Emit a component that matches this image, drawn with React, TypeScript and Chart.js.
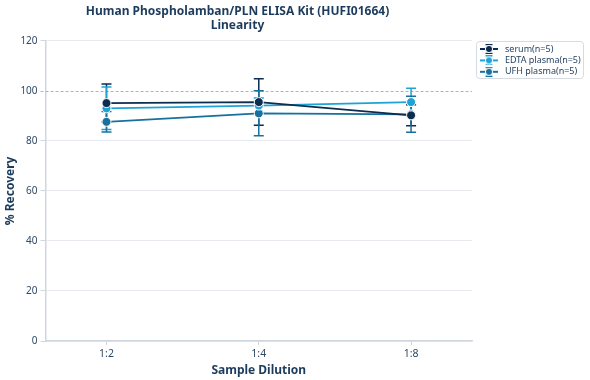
import React, { useEffect, useRef } from "react";
import { Chart, registerables } from "chart.js";

Chart.register(...registerables);

const categories = ["1:2", "1:4", "1:8"];
const seriesNames = ["serum(n=5)", "EDTA plasma(n=5)", "UFH plasma(n=5)"];
const serumValues = [95.1, 95.5, 90.2];
const edtaValues = [93.0, 94.1, 95.5];
const ufhValues = [87.6, 91.0, 90.6];
const serumErrors = [7.6, 9.3, 4.2];
const edtaErrors = [8.5, 3.0, 5.5];
const ufhErrors = [4.1, 9.0, 7.2];
const yTicks = [0, 20, 40, 60, 80, 100, 120];
const referenceValue = 100;

const colors = ["#0c2d4e", "#1ea3d6", "#17709d"];
const textColor = "#1d3b5c";
const tickColor = "#2f4a66";

function makeGlyph(color: string) {
  const c = document.createElement("canvas");
  c.width = 20;
  c.height = 10;
  const ctx = c.getContext("2d")!;
  ctx.strokeStyle = color;
  ctx.lineWidth = 2;
  ctx.beginPath();
  ctx.moveTo(1, 5);
  ctx.lineTo(19, 5);
  ctx.stroke();
  ctx.lineWidth = 1.3;
  ctx.beginPath();
  ctx.moveTo(10, 0.5);
  ctx.lineTo(10, 9.5);
  ctx.moveTo(6.5, 0.7);
  ctx.lineTo(13.5, 0.7);
  ctx.moveTo(6.5, 9.3);
  ctx.lineTo(13.5, 9.3);
  ctx.stroke();
  ctx.fillStyle = color;
  ctx.strokeStyle = "#ffffff";
  ctx.lineWidth = 1;
  ctx.beginPath();
  ctx.arc(10, 5, 3.6, 0, Math.PI * 2);
  ctx.fill();
  ctx.stroke();
  return c;
}

export default function App() {
  const ref = useRef<HTMLCanvasElement>(null);
  useEffect(() => {
    const values = [serumValues, edtaValues, ufhValues];
    const errors = [serumErrors, edtaErrors, ufhErrors];
    const errorPlugin = {
      id: "errorBars",
      beforeDatasetsDraw(chart: any) {
        const ctx = chart.ctx;
        const xs = chart.scales.x;
        const ys = chart.scales.y;
        const area = chart.chartArea;
        ctx.save();
        ctx.strokeStyle = "#7fc5e2";
        ctx.lineWidth = 1;
        ctx.setLineDash([3, 2]);
        const yr = Math.round(ys.getPixelForValue(referenceValue)) + 0.5;
        ctx.beginPath();
        ctx.moveTo(area.left - 5, yr);
        ctx.lineTo(area.right, yr);
        ctx.stroke();
        ctx.restore();
        ctx.save();
        ctx.lineWidth = 1.5;
        values.forEach((vals, di) => {
          ctx.strokeStyle = colors[di];
          vals.forEach((v, i) => {
            const x = xs.getPixelForValue(i);
            const yt = ys.getPixelForValue(v + errors[di][i]);
            const yb = ys.getPixelForValue(v - errors[di][i]);
            ctx.beginPath();
            ctx.moveTo(x, yt);
            ctx.lineTo(x, yb);
            ctx.moveTo(x - 5, yt);
            ctx.lineTo(x + 5, yt);
            ctx.moveTo(x - 5, yb);
            ctx.lineTo(x + 5, yb);
            ctx.stroke();
          });
        });
        ctx.restore();
      },
      afterDraw(chart: any) {
        const ctx = chart.ctx;
        const area = chart.chartArea;
        const lx = area.right + 4;
        const ly = 41;
        const w = 107;
        const h = 37;
        ctx.save();
        ctx.strokeStyle = "#d5dbe1";
        ctx.lineWidth = 1;
        ctx.beginPath();
        if (ctx.roundRect) ctx.roundRect(lx + 0.5, ly + 0.5, w, h, 3);
        else ctx.rect(lx + 0.5, ly + 0.5, w, h);
        ctx.stroke();
        ctx.font = "9px 'Noto Sans'";
        ctx.fillStyle = textColor;
        ctx.textBaseline = "middle";
        seriesNames.forEach((n, i) => {
          const cy = ly + 8 + i * 11.4;
          ctx.drawImage(makeGlyph(colors[i]), lx + 3, cy - 5);
          ctx.fillText(n, lx + 29, cy);
        });
        ctx.restore();
      },
    };

    const chart = new Chart(ref.current!, {
      type: "line",
      data: {
        datasets: values.map((vals, di) => ({
          label: seriesNames[di],
          data: vals.map((v, i) => ({ x: i, y: v })),
          borderColor: colors[di],
          backgroundColor: colors[di],
          pointBackgroundColor: colors[di],
          pointBorderColor: "#ffffff",
          pointBorderWidth: 1,
          pointRadius: 4.5,
          borderWidth: 1.8,
          tension: 0,
        })),
      },
      options: {
        animation: false,
        responsive: false,
        maintainAspectRatio: false,
        layout: { padding: { left: 3, right: 118, top: 0, bottom: 2 } },
        plugins: {
          legend: { display: false },
          tooltip: { enabled: false },
          title: {
            display: true,
            text: ["Human Phospholamban/PLN ELISA Kit (HUFI01664)", "Linearity"],
            color: textColor,
            font: { family: "'Noto Sans'", size: 12, weight: "bold" },
            padding: { top: 4, bottom: 8 },
            lineHeight: 1.15,
          },
        },
        scales: {
          x: {
            type: "linear",
            min: -0.4,
            max: 2.4,
            afterBuildTicks(scale: any) {
              scale.ticks = categories.map((_, i) => ({ value: i }));
            },
            ticks: {
              color: tickColor,
              font: { family: "'Noto Sans'", size: 10.5 },
              callback: (v: any) => categories[v] ?? "",
              padding: 3,
            },
            grid: { display: true, drawOnChartArea: false, color: "#cfd6dd", tickLength: 4 },
            border: { color: "#cfd6dd", width: 1.5 },
            title: {
              display: true,
              text: "Sample Dilution",
              color: textColor,
              font: { family: "'Noto Sans'", size: 12, weight: "bold" },
              padding: { top: 0, bottom: 0 },
            },
          },
          y: {
            min: 0,
            max: 120,
            afterBuildTicks(scale: any) {
              scale.ticks = yTicks.map((v) => ({ value: v }));
            },
            ticks: {
              color: tickColor,
              font: { family: "'Noto Sans'", size: 10 },
              padding: 3,
            },
            grid: {
              color: (c: any) => (c.tick && c.tick.value === referenceValue ? "rgba(0,0,0,0)" : "#e6eaee"),
              tickColor: (c: any) => (c.tick && c.tick.value === referenceValue ? "rgba(0,0,0,0)" : "#cfd6dd"),
              tickLength: 5,
            },
            border: { color: "#cfd6dd", width: 1.5 },
            title: {
              display: true,
              text: "% Recovery",
              color: textColor,
              font: { family: "'Noto Sans'", size: 12, weight: "bold" },
              padding: { top: 0, bottom: 0 },
            },
          },
        },
      } as any,
      plugins: [errorPlugin],
    });
    return () => chart.destroy();
  }, []);
  return (
    <div style={{ position: "fixed", left: 0, top: 0, width: 590, height: 380 }}>
      <canvas ref={ref} width={590} height={380} style={{ width: 590, height: 380 }} />
    </div>
  );
}
